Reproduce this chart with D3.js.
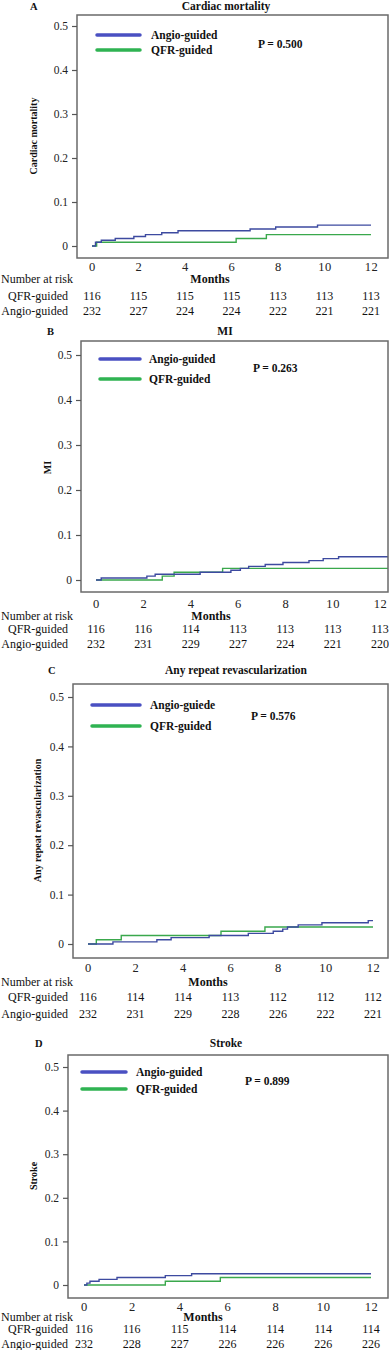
<!DOCTYPE html>
<html>
<head>
<meta charset="utf-8">
<script src="https://cdn.jsdelivr.net/npm/d3@7"></script>
<style>
  body { margin: 0; background: #fff; }
  svg text { font-family: "Liberation Serif", "Times New Roman", serif; fill: #111; }
</style>
</head>
<body>
<svg id="canvas" width="389" height="1350"></svg>
<script>
// ---- data ----
var months = [0, 2, 4, 6, 8, 10, 12];
var yTicks = [0, 0.1, 0.2, 0.3, 0.4, 0.5];
var panelLetters = ["A", "B", "C", "D"];
var panelTitles = ["Cardiac mortality", "MI", "Any repeat revascularization", "Stroke"];
var yLabels = ["Cardiac mortality", "MI", "Any repeat revascularization", "Stroke"];
var angioNames = ["Angio-guided", "Angio-guided", "Angio-guiede", "Angio-guided"];
var qfrName = "QFR-guided";
var pValues = ["P = 0.500", "P = 0.263", "P = 0.576", "P = 0.899"];

// cumulative incidence steps (time in months, value)
var cardiacAngioT = [0, 0.15, 0.4, 1.0, 1.8, 2.3, 3.0, 3.7, 6.8, 7.9, 9.7, 12];
var cardiacAngioV = [0, 0.0086, 0.0129, 0.0172, 0.0216, 0.0259, 0.0302, 0.0345, 0.0388, 0.0431, 0.0474, 0.0474];
var cardiacQfrT = [0, 0.2, 6.2, 7.5, 12];
var cardiacQfrV = [0, 0.0086, 0.0172, 0.0259, 0.0259];

var miAngioT = [0, 0.22, 2.15, 2.5, 4.4, 5.7, 6.1, 6.45, 7.15, 7.9, 9.0, 9.6, 10.25, 12.34];
var miAngioV = [0, 0.0043, 0.0086, 0.0129, 0.0172, 0.0216, 0.0259, 0.0302, 0.0345, 0.0388, 0.0431, 0.0474, 0.0517, 0.0517];
var miQfrT = [0, 2.8, 3.3, 5.35, 12.34];
var miQfrV = [0, 0.0086, 0.0172, 0.0259, 0.0259];

var revascAngioT = [0, 1.05, 2.9, 3.5, 5.1, 6.75, 7.8, 8.2, 8.4, 8.85, 9.85, 11.8, 12];
var revascAngioV = [0, 0.0043, 0.0086, 0.0129, 0.0172, 0.0216, 0.0259, 0.0302, 0.0345, 0.0388, 0.0431, 0.0474, 0.0474];
var revascQfrT = [0, 0.35, 1.4, 5.6, 7.45, 12];
var revascQfrV = [0, 0.0086, 0.0172, 0.0259, 0.0345, 0.0345];

var strokeAngioT = [0, 0.12, 0.25, 0.63, 1.38, 3.4, 4.5, 12];
var strokeAngioV = [0, 0.0043, 0.0086, 0.0129, 0.0172, 0.0216, 0.0259, 0.0259];
var strokeQfrT = [0, 3.4, 5.7, 12];
var strokeQfrV = [0, 0.0086, 0.0172, 0.0172];

// number at risk
var riskQfr = [
  [116, 115, 115, 115, 113, 113, 113],
  [116, 116, 114, 113, 113, 113, 113],
  [116, 114, 114, 113, 112, 112, 112],
  [116, 116, 115, 114, 114, 114, 114]
];
var riskAngio = [
  [232, 227, 224, 224, 222, 221, 221],
  [232, 231, 229, 227, 224, 221, 220],
  [232, 231, 229, 228, 226, 222, 221],
  [232, 228, 227, 226, 226, 226, 226]
];

var angioT = [cardiacAngioT, miAngioT, revascAngioT, strokeAngioT];
var angioV = [cardiacAngioV, miAngioV, revascAngioV, strokeAngioV];
var qfrT = [cardiacQfrT, miQfrT, revascQfrT, strokeQfrT];
var qfrV = [cardiacQfrV, miQfrV, revascQfrV, strokeQfrV];

// ---- layout of each panel (pixels) ----
var layouts = [
  { left: 77, top: 15, bottom: 258, y0: 246, y5: 26, x0: 92, x12: 371, titleY: 6, letterX: 30, titleX: 226,
    tickY: 267, narY: 279, qfrY: 296, angioY: 311, monthsX: 210,
    legX1: 97, legX2: 140, legY1: 35, legY2: 50, legTextX: 151, pX: 258, pY: 44, yLabX: 33 },
  { left: 81, top: 341, bottom: 592, y0: 580, y5: 355, x0: 96, x12: 380, titleY: 331, letterX: 47, titleX: 225,
    tickY: 604, narY: 616, qfrY: 629, angioY: 644, monthsX: 211,
    legX1: 100, legX2: 140, legY1: 359, legY2: 379, legTextX: 149, pX: 253, pY: 368, yLabX: 47 },
  { left: 73, top: 684, bottom: 958, y0: 944, y5: 697, x0: 88, x12: 373, titleY: 670, letterX: 48, titleX: 236,
    tickY: 968, narY: 982, qfrY: 997, angioY: 1014, monthsX: 208,
    legX1: 92, legX2: 140, legY1: 705, legY2: 726, legTextX: 150, pX: 251, pY: 716, yLabX: 37 },
  { left: 68, top: 1055, bottom: 1298, y0: 1285, y5: 1067, x0: 84, x12: 371, titleY: 1043, letterX: 35, titleX: 226,
    tickY: 1307, narY: 1317, qfrY: 1329, angioY: 1344, monthsX: 203,
    legX1: 82, legX2: 126, legY1: 1072, legY2: 1089, legTextX: 136, pX: 245, pY: 1081, yLabX: 33 }
];

var blue = "#3d4aa0", green = "#3aa84c";
var legBlue = "#4a50c2", legGreen = "#2fb352";
var boxRight = 388;

var svg = d3.select("#canvas");

// d3-selection-multi style helper (attrs) since only core d3 is loaded
d3.selection.prototype.attrs = function(obj) {
  var sel = this;
  Object.keys(obj).forEach(function(k) { sel.attr(k, obj[k]); });
  return sel;
};

function drawPanel(i) {
  var L = layouts[i];
  var g = svg.append("g").attr("id", "panel" + panelLetters[i]);

  var x = d3.scaleLinear().domain([0, 12]).range([L.x0, L.x12]);
  var y = d3.scaleLinear().domain([0, 0.5]).range([L.y0, L.y5]);

  // titles
  g.append("text").attrs({ x: L.letterX, y: L.titleY, dy: "0.35em" })
    .style("font-weight", "bold").style("font-size", "10.5px").text(panelLetters[i]);
  g.append("text").attrs({ x: L.titleX, y: L.titleY, dy: "0.35em", "text-anchor": "middle" })
    .style("font-weight", "bold").style("font-size", "11.5px").text(panelTitles[i]);

  // curves (clipped to the box)
  var clipId = "clip" + i;
  g.append("clipPath").attr("id", clipId).append("rect")
    .attrs({ x: L.left, y: L.top, width: boxRight - L.left, height: L.bottom - L.top });

  var line = d3.line().curve(d3.curveStepAfter)
    .x(function(d) { return x(d[0]); }).y(function(d) { return y(d[1]); });

  g.append("path").datum(d3.zip(qfrT[i], qfrV[i]))
    .attrs({ d: line, fill: "none", stroke: green, "stroke-width": 1.4, "clip-path": "url(#" + clipId + ")" });
  g.append("path").datum(d3.zip(angioT[i], angioV[i]))
    .attrs({ d: line, fill: "none", stroke: blue, "stroke-width": 1.4, "clip-path": "url(#" + clipId + ")" });

  // box
  g.append("rect").attrs({ x: L.left, y: L.top, width: boxRight - L.left, height: L.bottom - L.top,
    fill: "none", stroke: "#6a6a6a", "stroke-width": 1.5 });

  // y axis
  var yAxis = g.append("g").attr("transform", "translate(" + L.left + ",0)")
    .call(d3.axisLeft(y).tickValues(yTicks).tickSize(5).tickPadding(4)
      .tickFormat(function(d) { return d === 0 ? "0" : d3.format(".1f")(d); }));
  yAxis.attr("font-family", null);
  yAxis.select(".domain").remove();
  yAxis.selectAll("line").attrs({ stroke: "#555", "stroke-width": 1.2 });
  yAxis.selectAll("text").style("font-size", "11.5px").style("fill", "#222");

  // x axis labels
  var xAxis = g.append("g").attr("transform", "translate(0," + L.tickY + ")")
    .call(d3.axisBottom(x).tickValues(months).tickSize(0).tickPadding(0));
  xAxis.attr("font-family", null);
  xAxis.select(".domain").remove();
  xAxis.selectAll("text").attr("dy", "0.35em")
    .style("font-size", "12.5px").style("letter-spacing", "0.6px").style("fill", "#222");

  // y label
  g.append("text").attr("transform", "translate(" + L.yLabX + "," + ((L.y0 + L.y5) / 2) + ") rotate(-90)")
    .attrs({ "text-anchor": "middle", dy: "0.35em" })
    .style("font-weight", "bold").style("font-size", "10px").text(yLabels[i]);

  // legend
  g.append("line").attrs({ x1: L.legX1, x2: L.legX2, y1: L.legY1, y2: L.legY1, stroke: legBlue, "stroke-width": 3.5, "stroke-linecap": "round" });
  g.append("line").attrs({ x1: L.legX1, x2: L.legX2, y1: L.legY2, y2: L.legY2, stroke: legGreen, "stroke-width": 3.5, "stroke-linecap": "round" });
  g.append("text").attrs({ x: L.legTextX, y: L.legY1, dy: "0.35em" })
    .style("font-weight", "bold").style("font-size", "11.5px").text(angioNames[i]);
  g.append("text").attrs({ x: L.legTextX, y: L.legY2, dy: "0.35em" })
    .style("font-weight", "bold").style("font-size", "11.5px").text(qfrName);
  g.append("text").attrs({ x: L.pX, y: L.pY, dy: "0.35em" })
    .style("font-weight", "bold").style("font-size", "11.5px").text(pValues[i]);

  // number at risk table
  g.append("text").attrs({ x: L.monthsX, y: L.narY, dy: "0.35em", "text-anchor": "middle" })
    .style("font-weight", "bold").style("font-size", "12px").text("Months");
  g.append("text").attrs({ x: 1, y: L.narY, dy: "0.35em" })
    .style("font-size", "12px").text("Number at risk");
  g.append("text").attrs({ x: 68, y: L.qfrY, dy: "0.35em", "text-anchor": "end" })
    .style("font-size", "12px").text("QFR-guided");
  g.append("text").attrs({ x: 68, y: L.angioY, dy: "0.35em", "text-anchor": "end" })
    .style("font-size", "12px").text("Angio-guided");

  g.selectAll(".rq").data(riskQfr[i]).enter().append("text")
    .attrs({ x: function(d, j) { return x(months[j]); }, y: L.qfrY, dy: "0.35em", "text-anchor": "middle" })
    .style("font-size", "12px").text(function(d) { return d; });
  g.selectAll(".ra").data(riskAngio[i]).enter().append("text")
    .attrs({ x: function(d, j) { return x(months[j]); }, y: L.angioY, dy: "0.35em", "text-anchor": "middle" })
    .style("font-size", "12px").text(function(d) { return d; });
}

for (var i = 0; i < 4; i++) drawPanel(i);
</script>
</body>
</html>
